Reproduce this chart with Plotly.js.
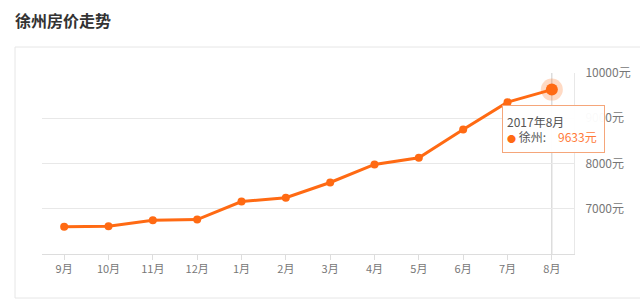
<!DOCTYPE html>
<html>
<head>
<meta charset="utf-8">
<script src="https://cdn.plot.ly/plotly-3.0.1.min.js"></script>
<style>html,body{margin:0;padding:0;background:#fff;}#chart{width:640px;height:302px;}</style>
</head>
<body>
<div id="chart"></div>
<script>
var months = ['9月','10月','11月','12月','1月','2月','3月','4月','5月','6月','7月','8月'];
var prices = [6600, 6612, 6745, 6760, 7160, 7245, 7580, 7980, 8125, 8750, 9355, 9633];
var yTicks = [7000, 8000, 9000, 10000];
var yTickLabels = ['7000元', '8000元', '9000元', '10000元'];
var tooltipTitle = '2017年8月';
var seriesName = '徐州';
var chartTitle = '徐州房价走势';

var FONT = '"Noto Sans CJK SC", "Noto Sans", sans-serif';
var ORANGE = '#ff6a13';
var last = months.length - 1;

var traces = [
  {
    x: months, y: prices, type: 'scatter', mode: 'lines+markers',
    line: {color: ORANGE, width: 3},
    marker: {color: ORANGE, size: 8},
    hoverinfo: 'none', showlegend: false
  },
  {
    x: [months[last]], y: [prices[last]], type: 'scatter', mode: 'markers',
    marker: {color: 'rgba(255,106,19,0.25)', size: 22},
    hoverinfo: 'none', showlegend: false
  },
  {
    x: [months[last]], y: [prices[last]], type: 'scatter', mode: 'markers',
    marker: {color: ORANGE, size: 12},
    hoverinfo: 'none', showlegend: false
  }
];

var layout = {
  width: 640, height: 302,
  margin: {l: 42, r: 66, t: 73, b: 48},
  paper_bgcolor: '#fff', plot_bgcolor: '#fff',
  font: {family: FONT, color: '#666'},
  title: {
    text: '<b>' + chartTitle + '</b>',
    x: 15/640, xanchor: 'left', xref: 'container',
    y: 1 - 21/302, yanchor: 'middle', yref: 'container',
    font: {size: 16, color: '#333', family: FONT}
  },
  xaxis: {
    type: 'category', range: [-0.5, 11.5],
    showgrid: false, zeroline: false,
    showline: true, linecolor: '#ddd', linewidth: 1,
    ticks: 'outside', ticklen: 5, tickcolor: '#ddd',
    tickfont: {size: 11, color: '#777'},
    fixedrange: true
  },
  yaxis: {
    side: 'right', range: [6000, 10000],
    tickmode: 'array', tickvals: yTicks, ticktext: yTickLabels,
    showgrid: true, gridcolor: '#e8e8e8', gridwidth: 1,
    zeroline: false, showline: true, linecolor: '#e8e8e8',
    ticks: '', ticklabelstandoff: 8,
    tickfont: {size: 12, color: '#777'},
    fixedrange: true
  },
  shapes: [
    {type: 'rect', xref: 'paper', yref: 'paper',
     x0: -27/532, x1: 1.25, y0: -44/181, y1: 207/181,
     line: {color: '#e6e6e6', width: 1}, fillcolor: 'rgba(0,0,0,0)', layer: 'below'},
    {type: 'line', xref: 'x', yref: 'paper', x0: months[last], x1: months[last], y0: 0, y1: 1,
     line: {color: '#cccccc', width: 1}, layer: 'below'}
  ],
  annotations: [
    {
      x: months[last], y: prices[last], xref: 'x', yref: 'y',
      showarrow: true, arrowcolor: 'rgba(0,0,0,0)', arrowwidth: 0.1, arrowhead: 0,
      ax: 2, ay: 39,
      text: tooltipTitle + '<br><span style="color:' + ORANGE + ';font-size:9px">●</span> ' + seriesName +
            ':\u2003<span style="color:#ff7a3a">' + prices[last] + '元</span>',
      align: 'left', valign: 'middle',
      width: 93, height: 38,
      font: {size: 12, color: '#555', family: FONT},
      bgcolor: 'rgba(255,255,255,0.96)',
      bordercolor: '#f5a67a', borderwidth: 1, borderpad: 4
    }
  ]
};

Plotly.newPlot('chart', traces, layout, {displayModeBar: false, staticPlot: true});
</script>
</body>
</html>
